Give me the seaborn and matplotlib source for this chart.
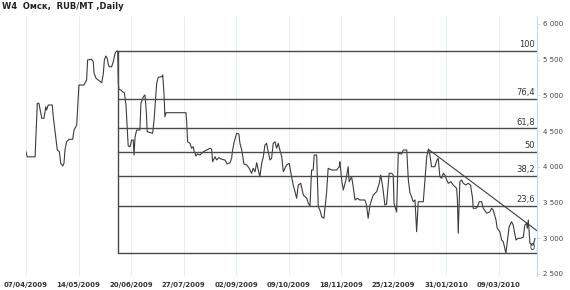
import matplotlib
matplotlib.use("Agg")
import matplotlib.pyplot as plt
import seaborn as sns
import pandas as pd

# ---------------- data ----------------
title = "W4  Омск,  RUB/MT ,Daily"

tick_pos = [0, 26, 52, 78, 104, 130, 156, 182, 208, 234]
tick_labels = ["07/04/2009", "14/05/2009", "20/06/2009", "27/07/2009", "02/09/2009",
               "09/10/2009", "18/11/2009", "25/12/2009", "31/01/2010", "09/03/2010"]
y_ticks = [2500, 3000, 3500, 4000, 4500, 5000, 5500, 6000]
y_tick_labels = ["2 500", "3 000", "3 500", "4 000", "4 500", "5 000", "5 500", "6 000"]

bar_idx = [0, 0.6, 3.6, 4.5, 5.6, 6.4, 7.8, 8.9, 9.8, 10.2, 11.0, 13.0, 13.5, 14.9, 15.5, 16.5,
           17.2, 18.2, 18.8, 19.3, 20.1, 21.3, 23.1, 23.8, 25.1, 26.2, 28.7, 30.0, 30.5, 32.5,
           33.3, 33.7, 34.7, 35.8, 37.5, 38.3, 38.8, 39.5, 40.2, 40.7, 41.2, 42.4, 43.2, 44.1,
           44.9, 45.4, 45.7, 46.0, 47.0, 47.7, 48.7, 49.5, 50.1, 50.6, 51.5, 52.3, 53.1, 53.5,
           54.0, 54.8, 56.4, 56.9, 58.1, 58.9, 59.6, 60.0, 62.7, 63.4, 64.7, 65.5, 67.2, 67.7,
           68.3, 68.8, 69.3, 79.2, 79.5, 80.0, 81.2, 82.0, 82.8, 83.3, 84.2, 84.8, 86.1, 87.8,
           89.4, 91.1, 91.9, 92.4, 93.6, 94.4, 95.4, 96.9, 98.5, 99.6, 101.0, 101.8, 102.3,
           103.1, 104.3, 105.4, 105.9, 106.8, 107.9, 109.3, 110.5, 111.7, 112.5, 113.4, 114.2,
           115.0, 115.8, 116.7, 117.5, 118.3, 119.1, 119.9, 120.8, 121.6, 122.4, 123.3, 124.1,
           124.9, 125.7, 126.6, 127.4, 129.0, 130.3, 131.5, 132.3, 133.2, 134.0, 134.8, 136.0,
           137.3, 139.0, 139.8, 140.6, 141.4, 142.2, 142.7, 143.9, 144.7, 145.5, 146.4, 147.5,
           148.8, 149.6, 151.3, 153.8, 155.1, 155.4, 156.3, 157.1, 158.4, 159.5, 160.0, 161.2,
           162.0, 162.9, 164.0, 165.3, 167.8, 168.6, 169.4, 170.3, 171.1, 171.9, 173.6, 174.9,
           175.6, 176.6, 177.7, 178.5, 179.8, 181.0, 181.8, 182.2, 183.5, 184.3, 186.0, 186.8,
           188.5, 189.3, 190.1, 190.9, 191.7, 192.6, 193.4, 194.2, 196.7, 197.5, 198.4, 199.2,
           200.0, 200.8, 202.4, 203.5, 204.1, 204.9, 205.8, 206.6, 207.4, 208.3, 209.1, 210.4,
           211.5, 213.2, 213.6, 214.0, 214.8, 215.7, 216.5, 217.8, 218.9, 220.1, 221.1, 221.4,
           222.8, 223.4, 224.4, 225.6, 226.4, 228.1, 229.7, 230.5, 231.3, 232.7, 233.3, 234.6,
           235.5, 236.3, 237.6, 238.3, 239.2, 240.4, 241.2, 242.6, 243.7, 244.9, 246.2, 247.0,
           247.9, 248.2, 248.7, 249.5, 250.4, 251.2, 252.0]

price = [4212, 4140, 4140, 4140, 4890, 4890, 4680, 4680, 4842, 4796, 4866, 4866, 4702, 4376, 4236, 4212,
         4050, 4012, 4050, 4236, 4352, 4386, 4386, 4516, 4586, 5146, 5146, 5216, 5496, 5506,
         5472, 5310, 5240, 5216, 5178, 5310, 5496, 5552, 5520, 5440, 5402, 5402, 5472, 5590,
         5622, 5622, 5170, 5086, 5076, 5052, 5038, 4866, 4562, 4292, 4282, 4376, 4376, 4166,
         4422, 4516, 4516, 4890, 4982, 5006, 4754, 4492, 4470, 4656, 5170, 5254, 5262, 5286,
         5030, 4702, 4758, 4758, 4656, 4352, 4330, 4260, 4282, 4212, 4152, 4180, 4166, 4212,
         4236, 4260, 4246, 4072, 4142, 4096, 4128, 4106, 4096, 4040, 4058, 4120, 4236,
         4352, 4470, 4460, 4334, 4236, 4040, 4026, 3980, 3910, 3980, 3932, 4058,
         3956, 3862, 4050, 4142, 4306, 4330, 4212, 4096, 4120, 4330, 4352, 4260,
         4330, 4236, 4142, 3932, 4026, 4050, 3862, 3746, 3652, 3560, 3746, 3770,
         3606, 3560, 3490, 3452, 3956, 3956, 4166, 4166, 3442, 3396, 3302, 3280,
         3630, 3980, 3956, 3956, 4002, 4072, 3816, 3676, 3816, 4002, 3792, 3862,
         3722, 3536, 3560, 3536, 3536, 3466, 3280, 3466, 3536, 3606, 3652, 3770,
         3886, 3722, 3466, 3476, 3910, 3910, 3886, 3490, 3368, 4190, 4180, 4236,
         4236, 3816, 3634, 3582, 3512, 3536, 3092, 3512, 3512, 3816, 4142, 4246,
         4166, 4002, 4002, 4096, 4120, 3862, 3840, 3910, 3886, 3816, 3770, 3792,
         3746, 3700, 3536, 3070, 3792, 3816, 3770, 3746, 3770, 3746, 3560, 3420,
         3420, 3434, 3512, 3512, 3420, 3350, 3372, 3420, 3396, 3256, 3140, 3092,
         2976, 2952, 2790, 2952, 3162, 3232, 3186, 2976, 3000, 3000, 3014, 3186,
         3210, 3140, 3256, 2930, 2906, 2906, 3000]

fib_start = 45.4
fib_low = 2790
fib_high = 5622
fib_pct = [0, 23.6, 38.2, 50, 61.8, 76.4, 100]
fib_labels = ["0", "23,6", "38,2", "50", "61,8", "76,4", "100"]

trend_x = [199.2, 253.0]
trend_y = [4246, 3106]

# ---------------- plot ----------------
sns.set_style("white")
plt.rcParams['font.family'] = ['DejaVu Sans']

fig = plt.figure(figsize=(5.7, 2.9), dpi=100)
ax = fig.add_axes([26 / 570, 1 - 276 / 290, (537 - 26) / 570, (276 - 16) / 290])

df = pd.DataFrame({"idx": bar_idx, "price": price})
sns.lineplot(data=df, x="idx", y="price", ax=ax, color="#3c3c3c", linewidth=0.8,
             sort=False, estimator=None)

xmax = 253.0
fib_col = "#4a4a4a"
ax.plot([fib_start, fib_start], [fib_low, fib_high], color=fib_col, linewidth=1.0)
for p, lab in zip(fib_pct, fib_labels):
    lv = fib_low + (fib_high - fib_low) * p / 100.0
    ax.plot([fib_start, xmax], [lv, xmax * 0 + lv], color=fib_col, linewidth=1.0)
    ax.annotate(lab, xy=(xmax, lv), xytext=(-1.5, 1.2), textcoords="offset points",
                ha="right", va="bottom", fontsize=6, color="#333333")

ax.plot(trend_x, trend_y, color="#3c3c3c", linewidth=0.8)

ax.set_xlim(0, xmax)
ax.set_ylim(2472, 6112)

ax.set_xticks(tick_pos)
ax.set_xticklabels(tick_labels)
ax.set_yticks(y_ticks)
ax.set_yticklabels(y_tick_labels)
ax.yaxis.tick_right()
ax.tick_params(axis="x", length=0, pad=4, labelsize=5, labelcolor="#333333")
for t in ax.get_xticklabels():
    t.set_fontweight("bold")
ax.tick_params(axis="y", length=2, width=0.6, color="#c8dcea", pad=2.5,
               labelsize=5, labelcolor="#444444")
ax.set_xlabel("")
ax.set_ylabel("")

ax.grid(axis="x", color="#e4eef6", linewidth=0.8)
ax.grid(axis="y", visible=False)
for s in ["left", "top", "bottom"]:
    ax.spines[s].set_visible(False)
ax.spines["right"].set_color("#c8dcea")
ax.spines["right"].set_linewidth(0.8)

fig.text(2 / 570, 1 - 6.5 / 290, title, ha="left", va="center", fontsize=6,
         fontweight="bold", color="#222222")

fig.savefig("out.png", dpi=100)
